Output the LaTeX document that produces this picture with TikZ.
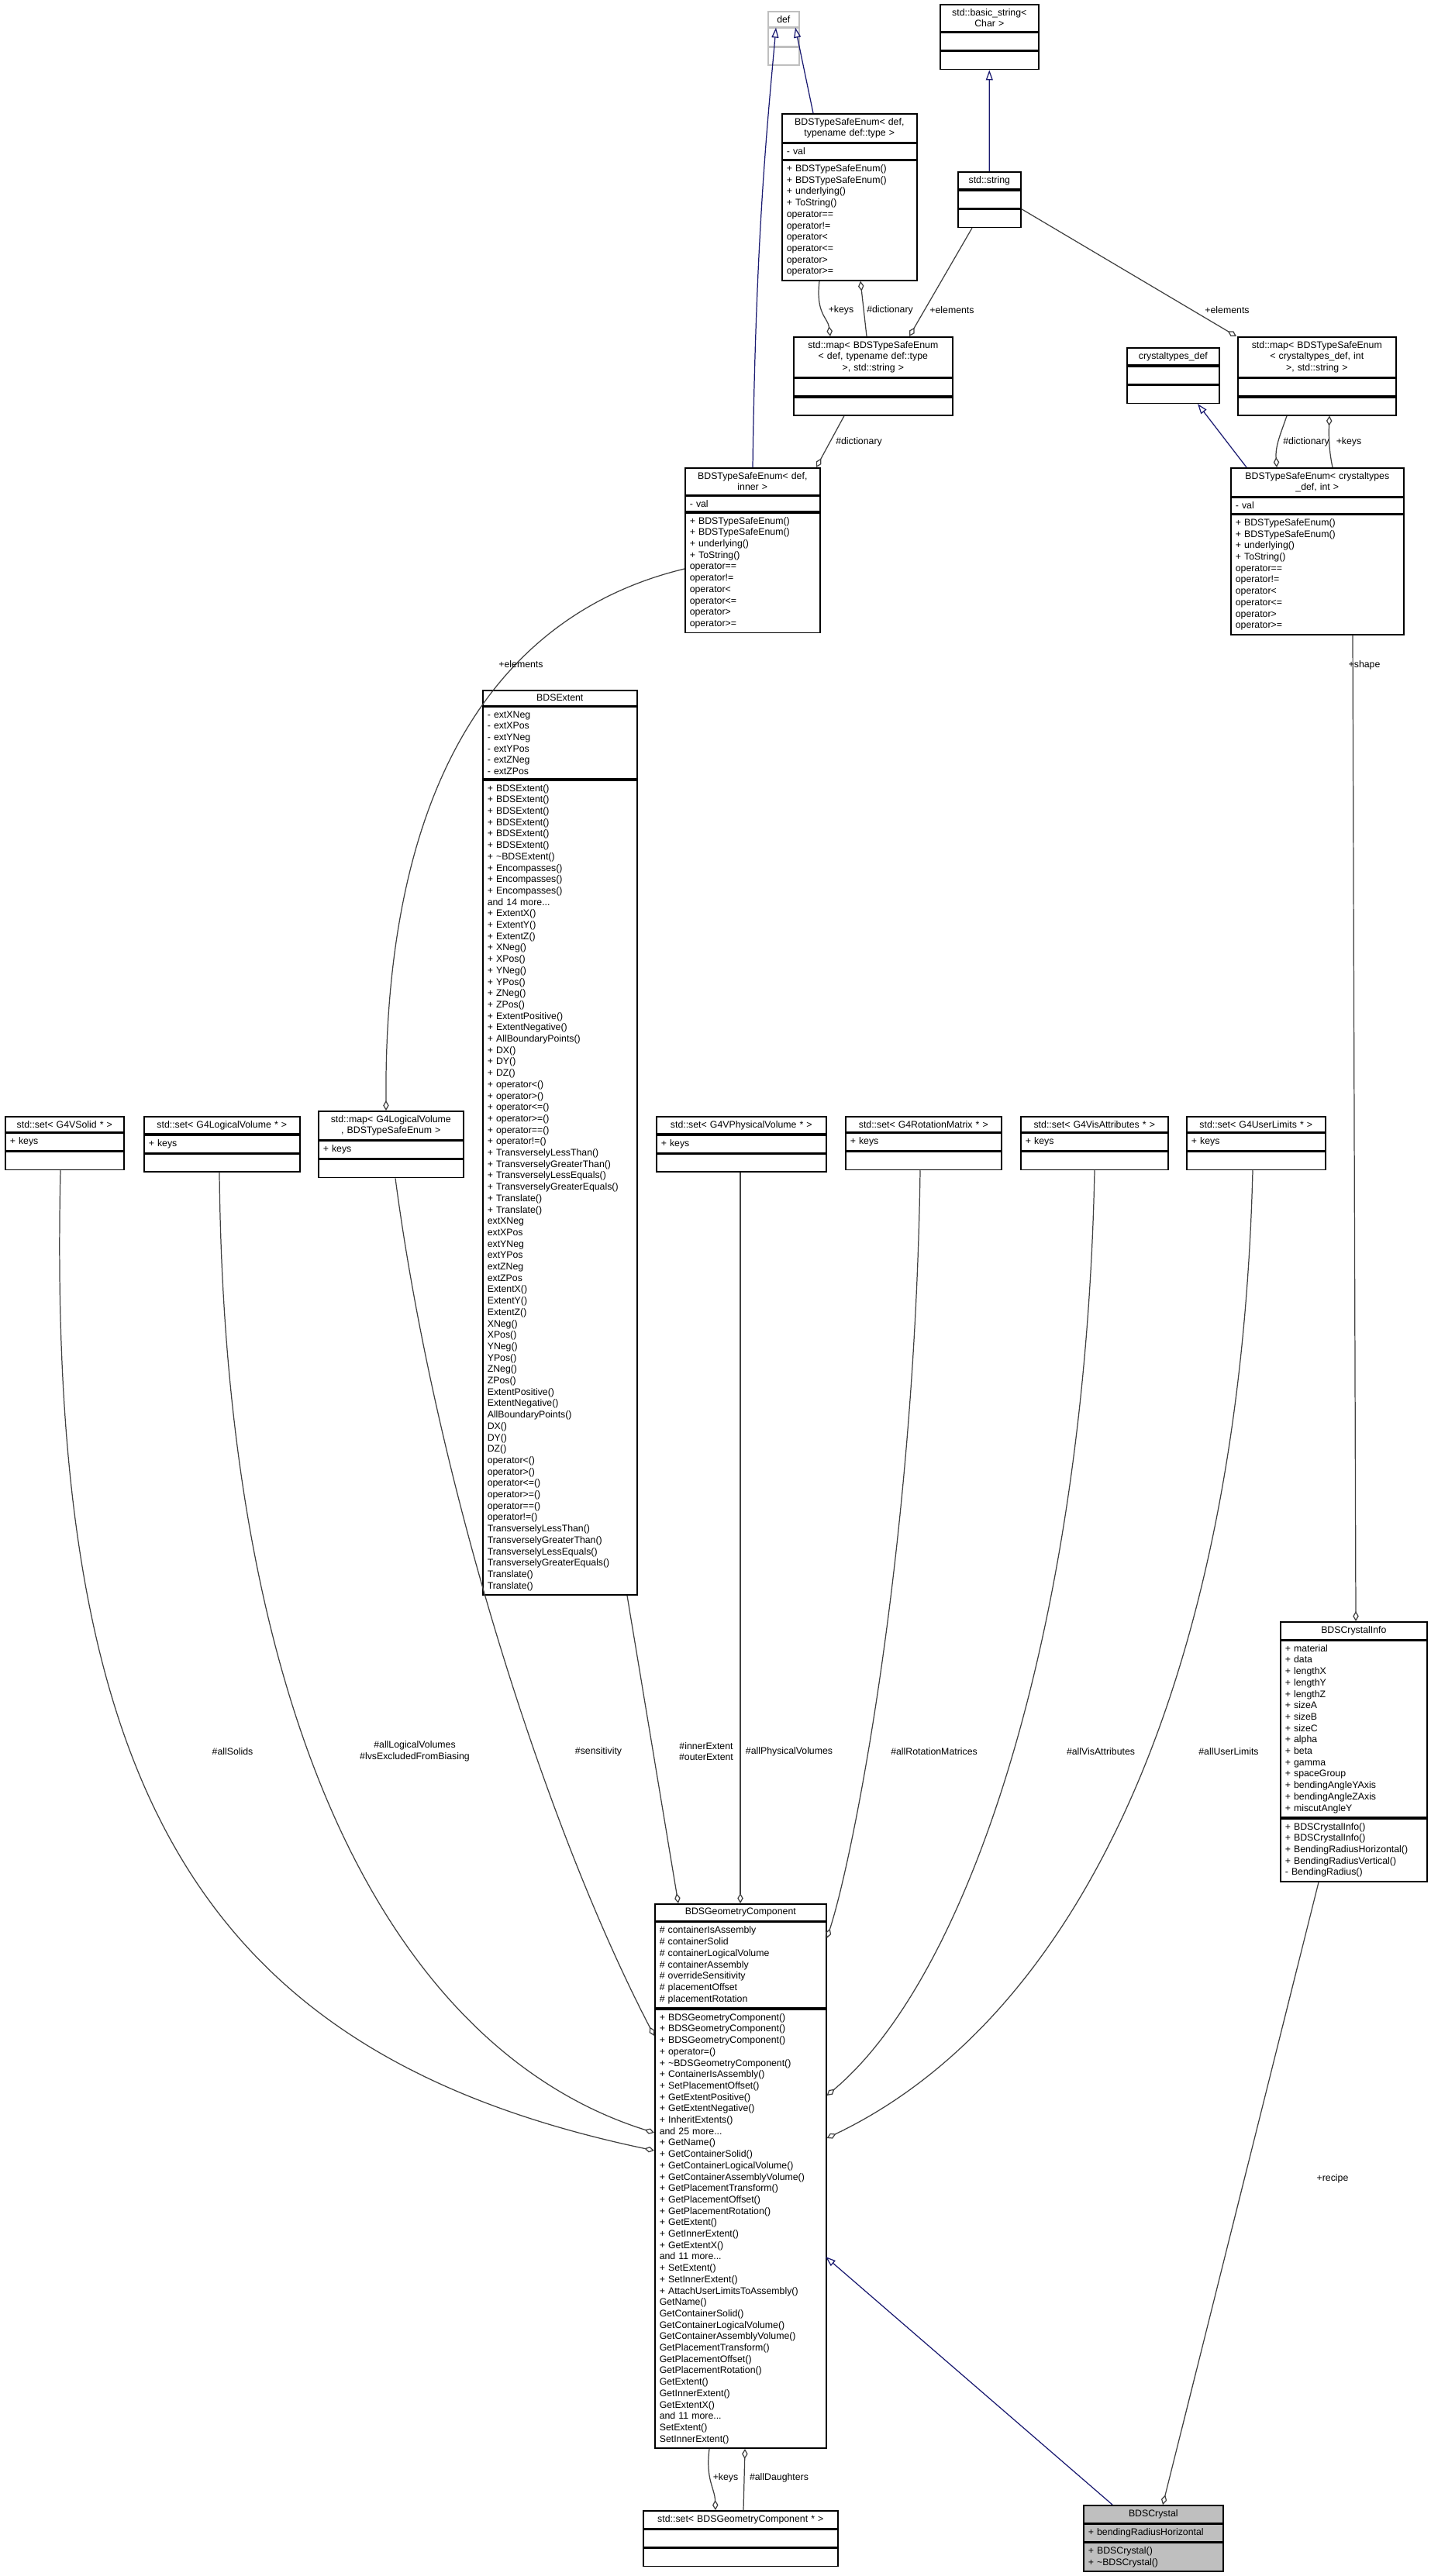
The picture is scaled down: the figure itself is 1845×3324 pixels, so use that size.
\documentclass[tikz,border=0pt]{standalone}
\usepackage{fontspec}
\setmainfont{Liberation Sans}
\usetikzlibrary{positioning,arrows.meta}
\definecolor{ln}{RGB}{64,64,64}
\definecolor{nv}{RGB}{25,25,112}
\definecolor{gb}{RGB}{191,191,191}
\def\fnt{\fontsize{3.5}{4.18}\selectfont}
\def\nil{\rule{0pt}{3.4pt}}
% class box: name, x, y, width, title, attributes, operations, extra style
\newcommand{\cls}[8]{\pgfmathsetmacro{\bw}{#4*0.01-0.12}
	\node[ttl,text width=\bw cm,#8] (#1t) at (#2,#3) {#5};
	\node[sec,text width=\bw cm,#8,below=0pt of #1t] (#1a) {#6};
	\node[sec,text width=\bw cm,#8,below=0pt of #1a] (#1m) {#7};
	\coordinate (#1) at (#1t.north);}

\begin{document}
\begin{tikzpicture}[x=0.01cm,y=-0.01cm,
	ttl/.style={draw,line width=0.45pt,anchor=north west,align=center,font=\fnt,inner xsep=0.06cm,inner ysep=0.055cm},
	sec/.style={draw,line width=0.45pt,align=left,font=\fnt,inner xsep=0.06cm,inner ysep=0.055cm},
	agg/.style={draw=ln,line width=0.35pt,-{Diamond[open,length=0.13cm,width=0.075cm]}},
	inh/.style={draw=nv,line width=0.35pt,-{Triangle[open,length=0.13cm,width=0.09cm]}},
	lbl/.style={font=\fnt,inner sep=0pt,align=center}]
\useasboundingbox (0,0) rectangle (1845,3324);

\cls{def}{990}{14}{40}{def}{\nil}{\nil}{draw=gb}
\cls{bstr}{1212}{5}{127}{std::basic\_string\textless\\Char \textgreater}{\nil}{\nil}{}
\cls{tsetype}{1008}{146}{174}{BDSTypeSafeEnum\textless{} def,\\typename def::type \textgreater}{- val}{+ BDSTypeSafeEnum()\\+ BDSTypeSafeEnum()\\+ underlying()\\+ ToString()\\* operator==\\* operator!=\\* operator\textless\\* operator\textless=\\* operator\textgreater\\* operator\textgreater=}{}
\cls{str}{1235}{221}{81}{std::string}{\nil}{\nil}{}
\cls{mapdef}{1023}{434}{205}{std::map\textless{} BDSTypeSafeEnum\\\textless{} def, typename def::type\\\textgreater, std::string \textgreater}{\nil}{\nil}{}
\cls{ctdef}{1453}{448}{119}{crystaltypes\_def}{\nil}{\nil}{}
\cls{mapcry}{1596}{434}{204}{std::map\textless{} BDSTypeSafeEnum\\\textless{} crystaltypes\_def, int\\\textgreater, std::string \textgreater}{\nil}{\nil}{}
\cls{tseinner}{883}{603}{174}{BDSTypeSafeEnum\textless{} def,\\inner \textgreater}{- val}{+ BDSTypeSafeEnum()\\+ BDSTypeSafeEnum()\\+ underlying()\\+ ToString()\\* operator==\\* operator!=\\* operator\textless\\* operator\textless=\\* operator\textgreater\\* operator\textgreater=}{}
\cls{tsecry}{1587}{603}{223}{BDSTypeSafeEnum\textless{} crystaltypes\\\_def, int \textgreater}{- val}{+ BDSTypeSafeEnum()\\+ BDSTypeSafeEnum()\\+ underlying()\\+ ToString()\\* operator==\\* operator!=\\* operator\textless\\* operator\textless=\\* operator\textgreater\\* operator\textgreater=}{}
\cls{ext}{622}{890}{199}{BDSExtent}{- extXNeg\\- extXPos\\- extYNeg\\- extYPos\\- extZNeg\\- extZPos}{+ BDSExtent()\\+ BDSExtent()\\+ BDSExtent()\\+ BDSExtent()\\+ BDSExtent()\\+ BDSExtent()\\+ \textasciitilde BDSExtent()\\+ Encompasses()\\+ Encompasses()\\+ Encompasses()\\and 14 more...\\+ ExtentX()\\+ ExtentY()\\+ ExtentZ()\\+ XNeg()\\+ XPos()\\+ YNeg()\\+ YPos()\\+ ZNeg()\\+ ZPos()\\+ ExtentPositive()\\+ ExtentNegative()\\+ AllBoundaryPoints()\\+ DX()\\+ DY()\\+ DZ()\\+ operator\textless()\\+ operator\textgreater()\\+ operator\textless=()\\+ operator\textgreater=()\\+ operator==()\\+ operator!=()\\+ TransverselyLessThan()\\+ TransverselyGreaterThan()\\+ TransverselyLessEquals()\\+ TransverselyGreaterEquals()\\+ Translate()\\+ Translate()\\* extXNeg\\* extXPos\\* extYNeg\\* extYPos\\* extZNeg\\* extZPos\\* ExtentX()\\* ExtentY()\\* ExtentZ()\\* XNeg()\\* XPos()\\* YNeg()\\* YPos()\\* ZNeg()\\* ZPos()\\* ExtentPositive()\\* ExtentNegative()\\* AllBoundaryPoints()\\* DX()\\* DY()\\* DZ()\\* operator\textless()\\* operator\textgreater()\\* operator\textless=()\\* operator\textgreater=()\\* operator==()\\* operator!=()\\* TransverselyLessThan()\\* TransverselyGreaterThan()\\* TransverselyLessEquals()\\* TransverselyGreaterEquals()\\* Translate()\\* Translate()}{}
\cls{ssolid}{6}{1440}{153}{std::set\textless{} G4VSolid * \textgreater}{+ keys}{\nil}{}
\cls{slv}{185}{1440}{201}{std::set\textless{} G4LogicalVolume * \textgreater}{+ keys}{\nil}{}
\cls{mlv}{410}{1433}{187}{std::map\textless{} G4LogicalVolume\\*, BDSTypeSafeEnum \textgreater}{+ keys}{\nil}{}
\cls{spv}{846}{1440}{219}{std::set\textless{} G4VPhysicalVolume * \textgreater}{+ keys}{\nil}{}
\cls{srot}{1090}{1440}{201}{std::set\textless{} G4RotationMatrix * \textgreater}{+ keys}{\nil}{}
\cls{svis}{1316}{1440}{190}{std::set\textless{} G4VisAttributes * \textgreater}{+ keys}{\nil}{}
\cls{sul}{1530}{1440}{179}{std::set\textless{} G4UserLimits * \textgreater}{+ keys}{\nil}{}
\cls{info}{1651}{2092}{189}{BDSCrystalInfo}{+ material\\+ data\\+ lengthX\\+ lengthY\\+ lengthZ\\+ sizeA\\+ sizeB\\+ sizeC\\+ alpha\\+ beta\\+ gamma\\+ spaceGroup\\+ bendingAngleYAxis\\+ bendingAngleZAxis\\+ miscutAngleY}{+ BDSCrystalInfo()\\+ BDSCrystalInfo()\\+ BendingRadiusHorizontal()\\+ BendingRadiusVertical()\\- BendingRadius()}{}
\cls{geo}{844}{2456}{221}{BDSGeometryComponent}{\# containerIsAssembly\\\# containerSolid\\\# containerLogicalVolume\\\# containerAssembly\\\# overrideSensitivity\\\# placementOffset\\\# placementRotation}{+ BDSGeometryComponent()\\+ BDSGeometryComponent()\\+ BDSGeometryComponent()\\+ operator=()\\+ \textasciitilde BDSGeometryComponent()\\+ ContainerIsAssembly()\\+ SetPlacementOffset()\\+ GetExtentPositive()\\+ GetExtentNegative()\\+ InheritExtents()\\and 25 more...\\+ GetName()\\+ GetContainerSolid()\\+ GetContainerLogicalVolume()\\+ GetContainerAssemblyVolume()\\+ GetPlacementTransform()\\+ GetPlacementOffset()\\+ GetPlacementRotation()\\+ GetExtent()\\+ GetInnerExtent()\\+ GetExtentX()\\and 11 more...\\+ SetExtent()\\+ SetInnerExtent()\\+ AttachUserLimitsToAssembly()\\* GetName()\\* GetContainerSolid()\\* GetContainerLogicalVolume()\\* GetContainerAssemblyVolume()\\* GetPlacementTransform()\\* GetPlacementOffset()\\* GetPlacementRotation()\\* GetExtent()\\* GetInnerExtent()\\* GetExtentX()\\and 11 more...\\* SetExtent()\\* SetInnerExtent()}{}
\cls{sgeo}{829}{3239}{251}{std::set\textless{} BDSGeometryComponent * \textgreater}{\nil}{\nil}{}
\cls{cry}{1397}{3232}{180}{BDSCrystal}{+ bendingRadiusHorizontal}{+ BDSCrystal()\\+ \textasciitilde BDSCrystal()}{fill=gb}

% inheritance
\path[inh] (tsetypet.north -| 1049,0) -- (deft.south -| 1026,0);
\path[inh] (tseinnert.north -| 971,0) .. controls (975,300) and (990,160) .. (deft.south -| 1001,0);
\path[inh] (str) -- (bstrm.south);
\path[inh] (tsecryt.north -| 1608,0) -- (ctdefm.south -| 1545,0);
\path[inh] (cryt.north -| 1435,0) -- (1065,2912);

% members
\path[agg] (tsetypem.south -| 1057,0) .. controls (1052,405) and (1068,410) .. (mapdeft.north -| 1071,0);
\path[agg] (mapdeft.north -| 1118,0) -- (tsetypem.south -| 1110,0);
\path[agg] (strm.south -| 1254,0) -- (mapdeft.north -| 1173,0);
\path[agg] (strm.north east) -- (mapcryt.north -| 1595,0);
\path[agg] (mapdefm.south -| 1089,0) -- (tseinnert.north -| 1053,0);
\path[agg] (mapcrym.south -| 1660,0) .. controls (1652,560) and (1645,575) .. (tsecryt.north -| 1647,0);
\path[agg] (tsecryt.north -| 1719,0) .. controls (1714,580) and (1714,560) .. (mapcrym.south -| 1715,0);
\path[agg] (tseinnerm.west |- 0,734) .. controls (650,790) and (495,1000) .. (mlvt.north -| 498,0);
\path[agg] (tsecrym.south -| 1745,0) -- (infot.north -| 1749,0);
\path[agg] (ssolidm.south -| 78,0) .. controls (60,2300) and (250,2650) .. (geom.west |- 0,2775);
\path[agg] (slvm.south -| 283,0) .. controls (290,2250) and (520,2650) .. (geom.west |- 0,2752);
\path[agg] (mlvm.south -| 510,0) .. controls (560,1900) and (700,2350) .. (geom.west |- 0,2627);
\path[agg] (extm.south -| 809,0) -- (geot.north -| 875,0);
\path[agg] (spvm.south -| 955,0) -- (geot.north -| 955,0);
\path[agg] (srotm.south -| 1187,0) .. controls (1180,2000) and (1100,2400) .. (geoa.east |- 0,2501);
\path[agg] (svism.south -| 1412,0) .. controls (1400,2100) and (1250,2550) .. (geom.east |- 0,2704);
\path[agg] (sulm.south -| 1616,0) .. controls (1600,2150) and (1400,2600) .. (geom.east |- 0,2759);
\path[agg] (infom.south -| 1701,0) -- (cryt.north -| 1500,0);
\path[agg] (geom.south -| 915,0) .. controls (910,3200) and (922,3210) .. (sgeot.north -| 923,0);
\path[agg] (sgeot.north -| 959,0) -- (geom.south -| 961,0);

% labels
\node[lbl] (l1) at (1085,400) {+keys};
\node[lbl] (l2) at (1148,400) {\#dictionary};
\node[lbl] (l3) at (1228,400) {+elements};
\node[lbl] (l4) at (1583,400) {+elements};
\node[lbl] (l5) at (1108,570) {\#dictionary};
\node[lbl] (l6) at (1685,570) {\#dictionary};
\node[lbl] (l7) at (1740,570) {+keys};
\node[lbl] (l8) at (672,857) {+elements};
\node[lbl] (l9) at (1760,858) {+shape};
\node[lbl] (l10) at (300,2260) {\#allSolids};
\node[lbl] (l11) at (535,2260) {\#allLogicalVolumes\\\#lvsExcludedFromBiasing};
\node[lbl] (l12) at (772,2260) {\#sensitivity};
\node[lbl] (l13) at (911,2260) {\#innerExtent\\\#outerExtent};
\node[lbl] (l14) at (1018,2260) {\#allPhysicalVolumes};
\node[lbl] (l15) at (1205,2260) {\#allRotationMatrices};
\node[lbl] (l16) at (1420,2260) {\#allVisAttributes};
\node[lbl] (l17) at (1585,2260) {\#allUserLimits};
\node[lbl] (l18) at (1719,2811) {+recipe};
\node[lbl] (l19) at (936,3197) {+keys};
\node[lbl] (l20) at (1005,3197) {\#allDaughters};
\end{tikzpicture}
\end{document}
